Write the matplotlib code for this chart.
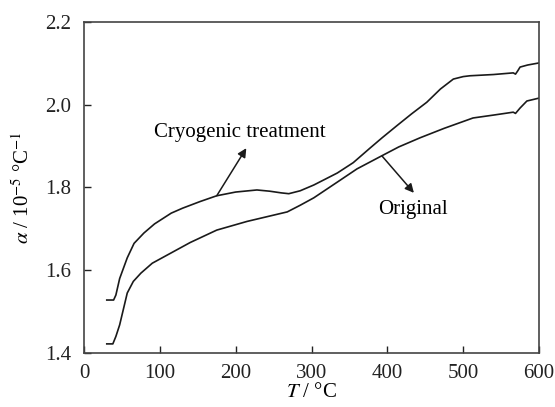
import matplotlib
matplotlib.use("Agg")
import matplotlib.pyplot as plt

plt.rcParams['font.family'] = ['Liberation Serif', 'DejaVu Serif']
plt.rcParams['mathtext.fontset'] = 'stix'

# Cryogenic treatment curve (T in degC, alpha in 1e-5 /degC)
T_cryo = [30, 39, 42, 47, 57, 66, 79, 93, 115, 130, 153, 175, 200, 228, 245, 260, 270,
          285, 303, 318, 334, 355, 377, 393, 413, 432, 452, 470, 487, 500, 509, 540,
          566, 569, 572, 575, 585, 600]
a_cryo = [1.528, 1.528, 1.54, 1.58, 1.63, 1.665, 1.69, 1.712, 1.738, 1.750, 1.766, 1.780,
          1.789, 1.794, 1.791, 1.787, 1.785, 1.792, 1.806, 1.820, 1.835, 1.860, 1.895,
          1.920, 1.950, 1.978, 2.006, 2.038, 2.062, 2.068, 2.070, 2.073, 2.077, 2.074,
          2.082, 2.091, 2.096, 2.101]

# Original curve
T_orig = [30, 38, 42, 47, 57, 65, 75, 90, 115, 140, 175, 215, 268, 285, 303, 334, 360,
          390, 415, 443, 475, 513, 540, 566, 569, 575, 584, 600]
a_orig = [1.422, 1.422, 1.44, 1.468, 1.545, 1.573, 1.593, 1.617, 1.642, 1.667, 1.697,
          1.718, 1.741, 1.757, 1.775, 1.813, 1.845, 1.874, 1.898, 1.920, 1.943, 1.968,
          1.975, 1.982, 1.979, 1.992, 2.009, 2.016]

fig = plt.figure(figsize=(5.55, 4.07), dpi=100)
ax = fig.add_axes([0.1514, 0.1327, 0.8198, 0.8133])

ax.plot(T_cryo, a_cryo, color='#1a1a1a', lw=1.2)
ax.plot(T_orig, a_orig, color='#1a1a1a', lw=1.2)

ax.set_xlim(0, 600)
ax.set_ylim(1.4, 2.2)
ax.set_xticks([0, 100, 200, 300, 400, 500, 600])
ax.set_yticks([1.4, 1.6, 1.8, 2.0, 2.2])
ax.set_yticklabels(['1.4', '1.6', '1.8', '2.0', '2.2'])
ax.tick_params(direction='in', length=5, width=1, labelsize=15, colors='#222222')
ax.tick_params(axis='x', pad=8)
ax.tick_params(axis='y', pad=9)
for s in ax.spines.values():
    s.set_color('#444444')
    s.set_linewidth(1.2)

ax.set_xlabel(r'$T$ / °C', fontsize=15, labelpad=0)
ax.set_ylabel(r'$\alpha$ / 10$^{-5}$ °C$^{-1}$', fontsize=15, labelpad=8)

arrow = dict(arrowstyle='-|>', color='#1a1a1a', lw=1.1, mutation_scale=13,
             shrinkA=0, shrinkB=0)
ax.annotate('', xy=(214, 1.895), xytext=(175, 1.780), arrowprops=arrow)
ax.text(205, 1.932, 'Cryogenic treatment', fontsize=15, ha='center', va='center')

ax.annotate('', xy=(435, 1.787), xytext=(393, 1.876), arrowprops=arrow)
ax.text(434, 1.746, 'Original', fontsize=15, ha='center', va='center')

fig.savefig('out.png', dpi=100)
